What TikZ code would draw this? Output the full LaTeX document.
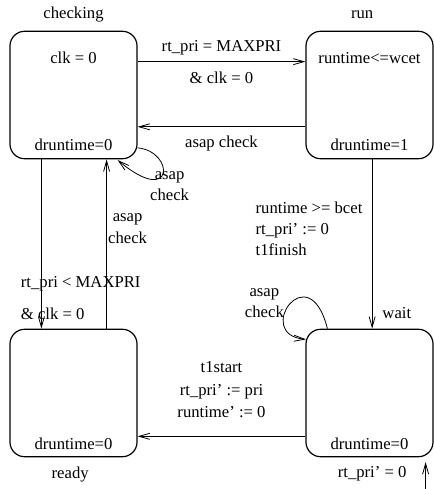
\documentclass[tikz,border=0pt]{standalone}
\usepackage{fontspec}
\setmainfont{Liberation Serif}
\usepackage{tikz}
\usetikzlibrary{arrows.meta,positioning,calc}
\tikzstyle{location} = [draw, rounded corners=11pt, minimum width=95.25pt, minimum height=95.6pt, line width=0.9pt]

\begin{document}
\begin{tikzpicture}[->,>={Straight Barb[length=8pt,width=4.5pt]},line width=0.6pt,every node/.style={font=\fontsize{12.5}{16}\selectfont}]

        \useasboundingbox (-55.125pt,71.25pt) rectangle (269.625pt,-295.5pt);

        \node[location] (checking) at (0,0) {};
        \node[location] (run) [right of=checking, node distance=222pt] {};
        \node[location] (ready) [below of=checking, node distance=223.5pt] {};
        \node[location] (wait) [right of=ready, node distance=222pt] {};

        \node (checkingname) at ([yshift=12.2pt]checking.north) {checking};
        \node (runname) at ([xshift=-5.5pt,yshift=12.2pt]run.north) {run};
        \node (readyname) at ([xshift=-2.5pt,yshift=-12.75pt]ready.south) {ready};
        \node (waitname) at ([xshift=20.5pt,yshift=12pt]wait.north) {wait};

        \node (checkinginv) at ([yshift=-20.25pt]checking.north) {clk = 0};
        \node (checkingrate) at ([yshift=11.25pt]checking.south) {druntime=0};
        \node (runinv) at ([yshift=-20.25pt]run.north) {runtime<=wcet};
        \node (runrate) at ([yshift=11.25pt]run.south) {druntime=1};
        \node (readyrate) at ([yshift=10.5pt]ready.south) {druntime=0};
        \node (waitrate) at ([yshift=10.5pt]wait.south) {druntime=0};

        \path ([yshift=-23.25pt]checking.north east) edge node[align=center] {rt\_pri = MAXPRI\\[8pt]\& clk = 0} ([yshift=-23.25pt]run.north west);
        \path ([yshift=24.4pt]run.south west) edge node[yshift=-12.75pt] {asap check} ([yshift=24.4pt]checking.south east);
        \path ([xshift=24pt]checking.south west) edge node[pos=0.82, anchor=west, xshift=-19pt, align=left] {rt\_pri < MAXPRI\\[8pt]\& clk = 0} ([xshift=24pt]ready.north west);
        \path ([xshift=-23.25pt]ready.north east) edge node[pos=0.59, xshift=15.75pt, align=center] {asap\\check} ([xshift=-23.25pt]checking.south east);
        \path ([xshift=2pt]run.south) edge node[pos=0.41, anchor=west, xshift=-91pt, align=left] {runtime >= bcet\\rt\_pri' := 0\\t1finish} ([xshift=2pt]wait.north);
        \path ([yshift=15.75pt]wait.south west) edge node[yshift=35pt, align=center] {t1start\\[1pt]rt\_pri' := pri\\[1pt]runtime' := 0} ([yshift=15.75pt]ready.south east);

        % self loops
        \draw ([yshift=8.6pt]checking.south east) to[out=-5, in=-40, out distance=28pt, in distance=56pt] ([xshift=-15pt,yshift=-0.5pt]checking.south east);
        \node (checkingloop) [align=center] at ([xshift=24pt,yshift=-20pt]checking.south east) {asap\\check};
        \draw ([xshift=16.5pt]wait.north west) to[out=104, in=175, out distance=58pt, in distance=40pt] ([xshift=0.5pt,yshift=-8pt]wait.north west);
        \node (waitloop) [align=center] at ([xshift=-30.75pt,yshift=19.3pt]wait.north west) {asap\\check};

        % initial
        \coordinate (waitinit) at ([xshift=-6pt,yshift=-28pt]wait.south east);
        \draw (waitinit) -- ([xshift=-6pt,yshift=-3.5pt]wait.south east);
        \node (waitinitlabel) at ([xshift=2pt,yshift=-12.5pt]wait.south) {rt\_pri' = 0};

\end{tikzpicture}
\end{document}
